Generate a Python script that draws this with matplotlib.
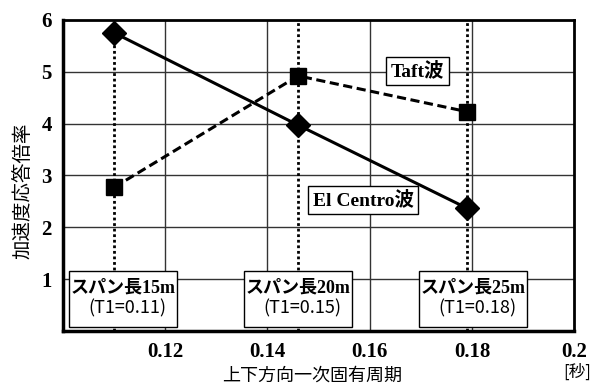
import matplotlib
matplotlib.use("Agg")
import matplotlib.pyplot as plt
from matplotlib.patches import Rectangle

periods = [0.11, 0.146, 0.179]
el_centro = [5.75, 3.97, 2.37]
taft = [2.77, 4.92, 4.23]
span_names = ["スパン長15m", "スパン長20m", "スパン長25m"]
span_t1 = ["(T1=0.11)", "(T1=0.15)", "(T1=0.18)"]
xticks = [0.12, 0.14, 0.16, 0.18, 0.2]
xtick_labels = ["0.12", "0.14", "0.16", "0.18", "0.2"]
yticks = [1, 2, 3, 4, 5, 6]

SERIF = ["Liberation Serif", "Noto Sans CJK JP"]
CJK = ["Noto Sans CJK JP", "DejaVu Sans"]

fig = plt.figure(figsize=(6, 3.89), dpi=100)
ax = fig.add_axes([0.105, 0.149, 0.852, 0.80])
ax.set_xlim(0.10, 0.20)
ax.set_ylim(0, 6)

# grid
for x in xticks[:-1]:
    ax.axvline(x, color="#333333", lw=1.0, zorder=1)
for y in yticks[:-1]:
    ax.axhline(y, color="#333333", lw=1.0, zorder=1)

# dotted vertical lines at each period
ax.vlines(periods[0], 0, el_centro[0], colors="black", linestyles=(0, (1, 1)), lw=2, zorder=2)
ax.vlines(periods[1:], 0, 6, colors="black", linestyles=(0, (1, 1)), lw=2, zorder=2)

ax.plot(periods, el_centro, color="black", lw=2.2, marker="D", markersize=12, zorder=4)
ax.plot(periods, taft, color="black", lw=2.2, ls=(0, (3, 1.5)), marker="s", markersize=11, zorder=4)

ax.set_xticks(xticks)
ax.set_xticklabels(xtick_labels, family=SERIF, fontsize=15, fontweight="bold")
ax.set_yticks(yticks)
ax.set_yticklabels([str(v) for v in yticks], family=SERIF, fontsize=15, fontweight="bold")
ax.tick_params(length=0, pad=8)
ax.tick_params(axis="x", pad=8)

for s in ["left", "bottom"]:
    ax.spines[s].set_linewidth(2.5)
for s in ["top", "right"]:
    ax.spines[s].set_linewidth(2.0)

box = dict(boxstyle="square,pad=0.25", fc="white", ec="black", lw=1.0)
ax.text(0.1693, 5.01, "Taft波", family=SERIF, fontsize=14, fontweight="bold",
        ha="center", va="center", bbox=box, zorder=5)
ax.text(0.1587, 2.53, "El Centro波", family=SERIF, fontsize=14, fontweight="bold",
        ha="center", va="center", bbox=box, zorder=5)

box_left = [0.1012, 0.1354, 0.1697]
box_w = 0.0211
for bx, name, t1 in zip(box_left, span_names, span_t1):
    ax.add_patch(Rectangle((bx, 0.08), box_w, 1.08, fc="white", ec="black", lw=1.0, zorder=5))
    cx = bx + box_w / 2
    ax.text(cx, 0.84, name, family=["Liberation Serif", "Noto Sans CJK JP"], fontsize=13,
            fontweight="bold", ha="center", va="center", zorder=6)
    ax.text(cx + 0.0008, 0.43, t1, family=CJK, fontsize=13, ha="center", va="center", zorder=6)

fig.text(0.52, 0.035, "上下方向一次固有周期", family=CJK, fontsize=13, ha="center", va="center")
fig.text(0.962, 0.042, "[秒]", family=CJK, fontsize=12, ha="center", va="center")
fig.text(0.038, 0.51, "加速度応答倍率", family=CJK, fontsize=14, ha="center", va="center", rotation=90)

fig.savefig("out.png", dpi=100)
